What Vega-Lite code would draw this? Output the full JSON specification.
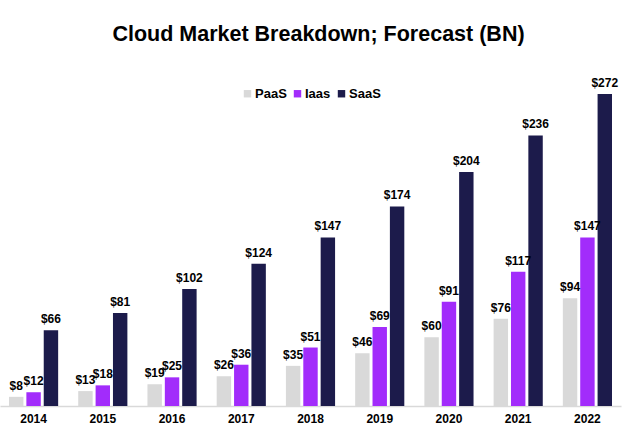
{
  "$schema": "https://vega.github.io/schema/vega-lite/v6.json",
  "width": 621,
  "height": 344,
  "autosize": {"type": "none"},
  "padding": {"left": 0, "top": 62, "right": 19, "bottom": 30},
  "background": "white",
  "view": {"stroke": null},
  "title": {
    "text": "Cloud Market Breakdown; Forecast (BN)",
    "font": "Liberation Sans",
    "fontSize": 21.5,
    "fontWeight": "bold",
    "color": "#000000",
    "anchor": "middle",
    "dx": 8,
    "offset": 17
  },
  "data": {
    "values": [
      {"year": "2014", "type": "PaaS", "value": 8},
      {"year": "2014", "type": "Iaas", "value": 12},
      {"year": "2014", "type": "SaaS", "value": 66},
      {"year": "2015", "type": "PaaS", "value": 13},
      {"year": "2015", "type": "Iaas", "value": 18},
      {"year": "2015", "type": "SaaS", "value": 81},
      {"year": "2016", "type": "PaaS", "value": 19},
      {"year": "2016", "type": "Iaas", "value": 25},
      {"year": "2016", "type": "SaaS", "value": 102},
      {"year": "2017", "type": "PaaS", "value": 26},
      {"year": "2017", "type": "Iaas", "value": 36},
      {"year": "2017", "type": "SaaS", "value": 124},
      {"year": "2018", "type": "PaaS", "value": 35},
      {"year": "2018", "type": "Iaas", "value": 51},
      {"year": "2018", "type": "SaaS", "value": 147},
      {"year": "2019", "type": "PaaS", "value": 46},
      {"year": "2019", "type": "Iaas", "value": 69},
      {"year": "2019", "type": "SaaS", "value": 174},
      {"year": "2020", "type": "PaaS", "value": 60},
      {"year": "2020", "type": "Iaas", "value": 91},
      {"year": "2020", "type": "SaaS", "value": 204},
      {"year": "2021", "type": "PaaS", "value": 76},
      {"year": "2021", "type": "Iaas", "value": 117},
      {"year": "2021", "type": "SaaS", "value": 236},
      {"year": "2022", "type": "PaaS", "value": 94},
      {"year": "2022", "type": "Iaas", "value": 147},
      {"year": "2022", "type": "SaaS", "value": 272}
    ]
  },
  "encoding": {
    "x": {
      "field": "year",
      "type": "nominal",
      "title": null,
      "scale": {"paddingInner": 0.29, "paddingOuter": 0.13},
      "axis": {
        "labelAngle": 0,
        "ticks": false,
        "domainColor": "#d9d9d9",
        "domainWidth": 1.5,
        "labelFont": "Liberation Sans",
        "labelFontSize": 12,
        "labelFontWeight": "bold",
        "labelColor": "#000000",
        "labelPadding": 7
      }
    },
    "xOffset": {
      "field": "type",
      "type": "nominal",
      "sort": ["PaaS", "Iaas", "SaaS"],
      "scale": {"paddingInner": 0.17, "paddingOuter": 0}
    },
    "y": {
      "field": "value",
      "type": "quantitative",
      "scale": {"domain": [0, 300]},
      "axis": null
    }
  },
  "layer": [
    {
      "mark": {"type": "bar"},
      "encoding": {
        "color": {
          "field": "type",
          "type": "nominal",
          "sort": ["PaaS", "Iaas", "SaaS"],
          "scale": {
            "domain": ["PaaS", "Iaas", "SaaS"],
            "range": ["#d9d9d9", "#a22cfb", "#1c1b4b"]
          },
          "legend": {
            "title": null,
            "orient": "none",
            "legendX": 241,
            "legendY": 25,
            "direction": "horizontal",
            "symbolType": "square",
            "symbolSize": 55,
            "symbolStrokeWidth": 0,
            "labelFont": "Liberation Sans",
            "labelFontSize": 13,
            "labelFontWeight": "bold",
            "labelColor": "#000000",
            "labelOffset": 1,
            "columnPadding": 4
          }
        }
      }
    },
    {
      "mark": {
        "type": "text",
        "baseline": "bottom",
        "dy": -4,
        "font": "Liberation Sans",
        "fontSize": 12,
        "fontWeight": "bold",
        "color": "#000000"
      },
      "encoding": {
        "text": {"field": "value", "type": "quantitative", "format": "$d"}
      }
    }
  ]
}
